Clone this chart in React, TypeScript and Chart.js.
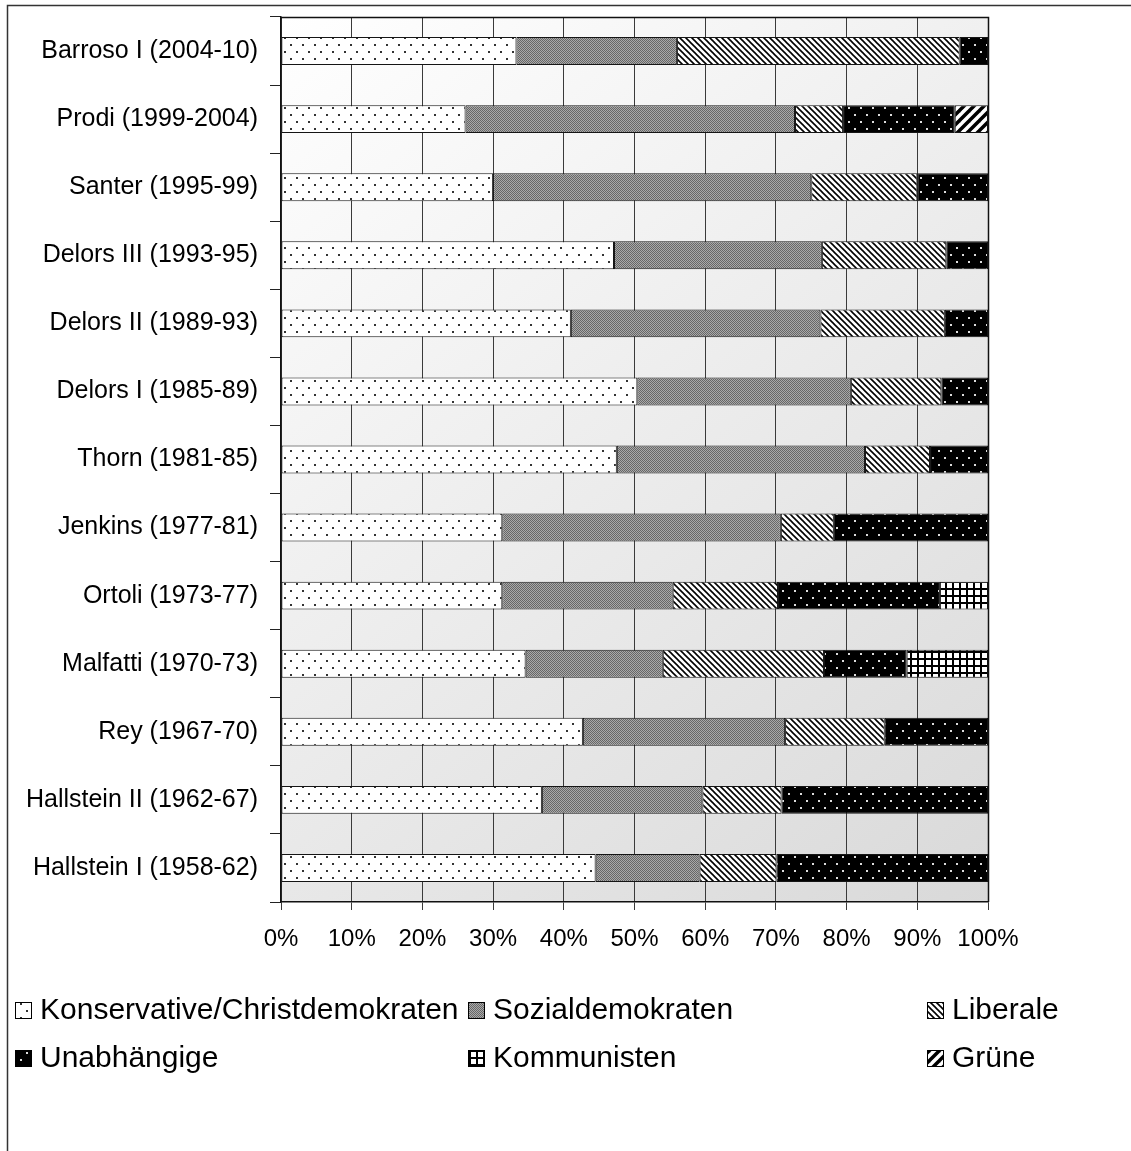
import React, { useEffect, useRef } from 'react';
import { Chart, registerables } from 'chart.js';

Chart.register(...registerables);

const categories = [
  'Barroso I (2004-10)',
  'Prodi (1999-2004)',
  'Santer (1995-99)',
  'Delors III (1993-95)',
  'Delors II (1989-93)',
  'Delors I (1985-89)',
  'Thorn (1981-85)',
  'Jenkins (1977-81)',
  'Ortoli (1973-77)',
  'Malfatti (1970-73)',
  'Rey (1967-70)',
  'Hallstein II (1962-67)',
  'Hallstein I (1958-62)',
];

const konservative = [33.3, 26.1, 30.0, 47.1, 41.0, 50.4, 47.5, 31.3, 31.3, 34.6, 42.7, 36.9, 44.5];
const sozialdemokraten = [22.7, 46.6, 45.0, 29.4, 35.3, 30.2, 35.1, 39.4, 24.1, 19.4, 28.6, 22.7, 14.7];
const liberale = [40.0, 6.8, 15.0, 17.6, 17.6, 12.8, 9.2, 7.5, 14.9, 22.8, 14.1, 11.2, 10.9];
const unabhaengige = [4.0, 15.8, 10.0, 5.9, 6.1, 6.6, 8.2, 21.8, 22.9, 11.7, 14.6, 29.2, 29.9];
const kommunisten = [null, null, null, null, null, null, null, null, 6.8, 11.5, null, null, null];
const gruene = [null, 4.7, null, null, null, null, null, null, null, null, null, null, null];

const seriesNames = [
  'Konservative/Christdemokraten',
  'Sozialdemokraten',
  'Liberale',
  'Unabhängige',
  'Kommunisten',
  'Grüne',
];

const xTickValues = [0, 10, 20, 30, 40, 50, 60, 70, 80, 90, 100];

const FONT = '"Liberation Sans", Arial, sans-serif';

type Kind = 'dotsWhite' | 'checker' | 'diagBack' | 'dotsBlack' | 'grid' | 'diagFwd';

function makePattern(ctx: CanvasRenderingContext2D, kind: Kind): CanvasPattern {
  const c = document.createElement('canvas');
  const g = c.getContext('2d') as CanvasRenderingContext2D;
  if (kind === 'dotsWhite' || kind === 'dotsBlack') {
    c.width = 12; c.height = 14;
    g.fillStyle = kind === 'dotsWhite' ? '#ffffff' : '#000000';
    g.fillRect(0, 0, 12, 14);
    g.fillStyle = kind === 'dotsWhite' ? '#333333' : '#dddddd';
    g.fillRect(2, 2, 2, 2);
    g.fillRect(8, 9, 2, 2);
  } else if (kind === 'checker') {
    c.width = 2; c.height = 2;
    g.fillStyle = '#a9a9a9';
    g.fillRect(0, 0, 2, 2);
    g.fillStyle = '#676767';
    g.fillRect(0, 0, 1, 1);
    g.fillRect(1, 1, 1, 1);
  } else if (kind === 'diagBack') {
    c.width = 6; c.height = 6;
    g.fillStyle = '#ffffff';
    g.fillRect(0, 0, 6, 6);
    g.strokeStyle = '#000000';
    g.lineWidth = 1.6;
    for (const off of [-6, 0, 6]) {
      g.beginPath();
      g.moveTo(off - 1, -1);
      g.lineTo(off + 7, 7);
      g.stroke();
    }
  } else if (kind === 'diagFwd') {
    c.width = 10; c.height = 10;
    g.fillStyle = '#ffffff';
    g.fillRect(0, 0, 10, 10);
    g.strokeStyle = '#000000';
    g.lineWidth = 3.5;
    for (const off of [-10, 0, 10]) {
      g.beginPath();
      g.moveTo(off - 1, 11);
      g.lineTo(off + 11, -1);
      g.stroke();
    }
  } else {
    c.width = 7; c.height = 7;
    g.fillStyle = '#ffffff';
    g.fillRect(0, 0, 7, 7);
    g.fillStyle = '#000000';
    g.fillRect(0, 0, 7, 2);
    g.fillRect(0, 0, 2, 7);
  }
  return ctx.createPattern(c, 'repeat') as CanvasPattern;
}

const kinds: Kind[] = ['dotsWhite', 'checker', 'diagBack', 'dotsBlack', 'grid', 'diagFwd'];
const seriesData = [konservative, sozialdemokraten, liberale, unabhaengige, kommunisten, gruene];

// legend layout (box left x per column, row centre y)
const legendColX = [15, 468, 927];
const legendRowY = [1010, 1058];

export default function App() {
  const ref = useRef<HTMLCanvasElement | null>(null);

  useEffect(() => {
    const canvas = ref.current;
    if (!canvas) return;
    const ctx = canvas.getContext('2d') as CanvasRenderingContext2D;
    const patterns = kinds.map((k) => makePattern(ctx, k));

    const backgroundPlugin = {
      id: 'bgFrame',
      beforeDraw(chart: any) {
        const c = chart.ctx as CanvasRenderingContext2D;
        const a = chart.chartArea;
        c.save();
        c.fillStyle = '#ffffff';
        c.fillRect(0, 0, chart.width, chart.height);
        const grad = c.createLinearGradient(a.left, a.top, a.right, a.bottom);
        grad.addColorStop(0, '#ffffff');
        grad.addColorStop(1, '#d9d9d9');
        c.fillStyle = grad;
        c.fillRect(a.left, a.top, a.right - a.left, a.bottom - a.top);
        c.strokeStyle = '#333333';
        c.lineWidth = 1.5;
        c.strokeRect(7.5, 5.5, 3000, 3000);
        c.restore();
      },
      afterDatasetsDraw(chart: any) {
        const c = chart.ctx as CanvasRenderingContext2D;
        const a = chart.chartArea;
        c.save();
        c.strokeStyle = '#111111';
        c.lineWidth = 1.5;
        c.beginPath();
        c.moveTo(a.left, a.top + 0.5);
        c.lineTo(a.right + 0.5, a.top + 0.5);
        c.lineTo(a.right + 0.5, a.bottom);
        c.stroke();
        c.restore();
      },
      afterDraw(chart: any) {
        const c = chart.ctx as CanvasRenderingContext2D;
        c.save();
        c.font = `30px ${FONT}`;
        c.textBaseline = 'middle';
        c.textAlign = 'left';
        chart.data.datasets.forEach((ds: any, i: number) => {
          const col = i % 3;
          const row = Math.floor(i / 3);
          const bx = legendColX[col];
          const by = legendRowY[row] - 8;
          c.fillStyle = ds.backgroundColor;
          c.fillRect(bx, by, 16, 16);
          c.strokeStyle = '#000000';
          c.lineWidth = 1;
          c.strokeRect(bx + 0.5, by + 0.5, 16, 16);
          c.fillStyle = '#000000';
          c.fillText(ds.label, bx + 25, legendRowY[row] + 1);
        });
        c.restore();
      },
    };

    const chart = new Chart(canvas, {
      type: 'bar',
      data: {
        labels: categories,
        datasets: seriesData.map((d, i) => ({
          label: seriesNames[i],
          data: d as any,
          backgroundColor: patterns[i] as any,
          borderColor: '#151515',
          borderWidth: 1,
          borderSkipped: false,
          barPercentage: 0.41,
          categoryPercentage: 1,
        })),
      },
      options: {
        indexAxis: 'y',
        animation: false,
        responsive: false,
        layout: { autoPadding: false, padding: { top: 17, right: 143, bottom: 0, left: 0 } },
        plugins: {
          legend: { display: false },
          tooltip: { enabled: false },
        },
        scales: {
          x: {
            stacked: true,
            min: 0,
            max: 100,
            afterFit: (s: any) => {
              s.height = 249;
              s.paddingLeft = 0;
              s.paddingRight = 0;
            },
            afterBuildTicks: (s: any) => { s.ticks = xTickValues.map((v) => ({ value: v })); },
            ticks: {
              color: '#000000',
              font: { family: FONT, size: 24 },
              padding: 15,
              maxRotation: 0,
              callback: (v: any) => `${v}%`,
            },
            grid: {
              color: '#3a3a3a',
              lineWidth: 1,
              tickLength: 8,
              drawOnChartArea: true,
            },
            border: { color: '#111111', width: 1.5 },
          },
          y: {
            stacked: true,
            afterFit: (s: any) => {
              s.width = 281;
              s.paddingTop = 0;
              s.paddingBottom = 0;
            },
            ticks: {
              color: '#000000',
              font: { family: FONT, size: 25 },
              padding: 12,
              autoSkip: false,
            },
            grid: {
              offset: true,
              drawOnChartArea: false,
              tickLength: 11,
              color: '#222222',
              lineWidth: 1,
            },
            border: { color: '#111111', width: 1.5 },
          },
        },
      },
      plugins: [backgroundPlugin],
    });

    return () => chart.destroy();
  }, []);

  return (
    <div style={{ position: 'absolute', left: 0, top: 0, width: 1131, height: 1151 }}>
      <canvas ref={ref} width={1131} height={1151} style={{ display: 'block' }} />
    </div>
  );
}
